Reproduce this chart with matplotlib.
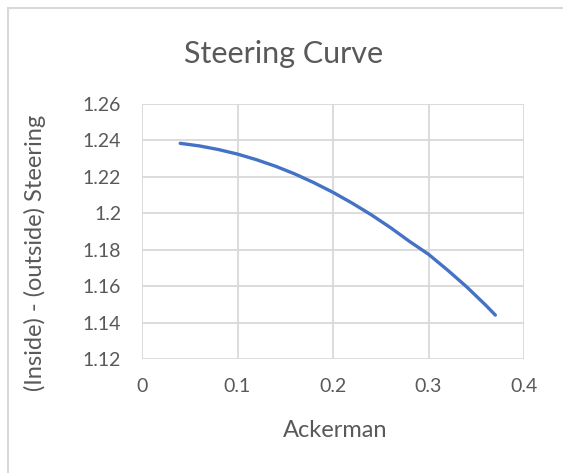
import matplotlib.pyplot as plt
from matplotlib.patches import Rectangle

# Steering curve
ackerman = [0.04, 0.06, 0.08, 0.10, 0.12, 0.14, 0.16, 0.18, 0.20,
            0.22, 0.24, 0.26, 0.28, 0.30, 0.32, 0.34, 0.36, 0.37]
steering = [1.2384, 1.2370, 1.2350, 1.2325, 1.2294, 1.2258, 1.2216, 1.2168, 1.2115,
            1.2056, 1.1992, 1.1922, 1.1846, 1.1775, 1.1688, 1.1596, 1.1495, 1.1441]

xticks = [0, 0.1, 0.2, 0.3, 0.4]
xtick_labels = ['0', '0.1', '0.2', '0.3', '0.4']
yticks = [1.12, 1.14, 1.16, 1.18, 1.2, 1.22, 1.24, 1.26]
ytick_labels = ['1.12', '1.14', '1.16', '1.18', '1.2', '1.22', '1.24', '1.26']

plt.rcParams['font.family'] = ['Lato', 'DejaVu Sans']
txt = '#595959'
grid = '#d9d9d9'

fig = plt.figure(figsize=(5.63, 4.73), dpi=100)
# chart border (Excel chart area, cut off at right/bottom)
fig.patches.append(Rectangle((8 / 563, -0.1), 1.2, 1 - 8 / 473 + 0.1,
                             transform=fig.transFigure, fill=False,
                             edgecolor='#d9d9d9', linewidth=1.5))

ax = fig.add_axes([142 / 563, 1 - 359 / 473, (524 - 142) / 563, (359 - 104) / 473])
ax.plot(ackerman, steering, color='#4472C4', linewidth=2.4, solid_capstyle='round')

ax.set_xlim(0, 0.4)
ax.set_ylim(1.12, 1.26)
ax.set_xticks(xticks)
ax.set_xticklabels(xtick_labels)
ax.set_yticks(yticks)
ax.set_yticklabels(ytick_labels)
ax.tick_params(length=0, colors=txt, labelsize=14)
ax.tick_params(axis='x', pad=14)
ax.tick_params(axis='y', pad=15)
ax.grid(True, color=grid, linewidth=1.3)
ax.set_axisbelow(True)
for s in ax.spines.values():
    s.set_visible(False)

fig.text(284 / 563, 1 - 63 / 473, 'Steering Curve', ha='center', va='baseline',
         fontsize=22, color=txt)
fig.text(335 / 563, 1 - 430 / 473, 'Ackerman', ha='center', va='center',
         fontsize=17, color=txt)
fig.text(35 / 563, 1 - 253 / 473, '(Inside) - (outside) Steering', ha='center',
         va='center', rotation=90, fontsize=17, color=txt)

fig.savefig('out.png', dpi=100)
